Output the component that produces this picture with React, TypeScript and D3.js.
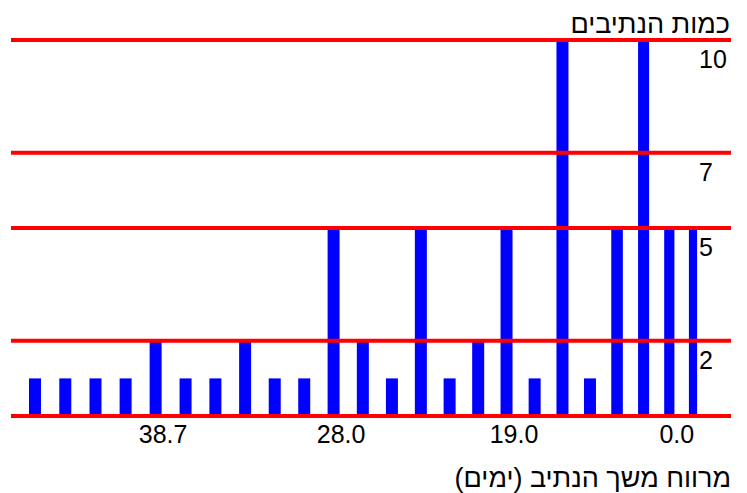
import React, { useRef, useEffect } from 'react';
import * as d3 from 'd3';

// bars listed right to left (the chart reads RTL)
const counts = [5, 5, 10, 5, 1, 10, 1, 5, 2, 1, 5, 1, 2, 5, 1, 1, 2, 1, 1, 2, 1, 1, 1, 1];
const tickBars = [1, 7, 13, 19];
const tickLabels = ['0.0', '19.0', '28.0', '38.7'];
const yTicks = [2, 5, 7, 10];
const yTitle = 'כמות הנתיבים';
const xTitle = 'מרווח משך הנתיב (ימים)';

const W = 747;
const H = 493;
const FONT = "'Liberation Sans', Arial, sans-serif";

function App() {
  const ref = useRef<SVGSVGElement | null>(null);

  useEffect(() => {
    if (!ref.current) return;
    const svg = d3.select(ref.current);
    svg.selectAll('*').remove();

    const x = d3
      .scalePow()
      .exponent(1.06)
      .domain([0, counts.length - 1])
      .range([693, 35]);

    const y = d3.scaleLinear().domain([0, 10]).range([416, 40]);

    const barWidth = (i: number) => {
      const step = Math.abs(x(i) - x(i + 1));
      return Math.min(12, step - 15.5);
    };

    svg
      .append('g')
      .selectAll('rect')
      .data(counts)
      .join('rect')
      .attr('x', (d, i) => x(i) - barWidth(i) / 2)
      .attr('width', (d, i) => barWidth(i))
      .attr('y', (d) => y(d))
      .attr('height', (d) => y(0) - y(d))
      .attr('fill', '#0000ff');

    // gridlines sit on top of the bars
    svg
      .append('g')
      .selectAll('line')
      .data([0, ...yTicks])
      .join('line')
      .attr('x1', 11)
      .attr('x2', 731)
      .attr('y1', (d) => y(d))
      .attr('y2', (d) => y(d))
      .attr('stroke', '#ff0000')
      .attr('stroke-width', 4);

    svg
      .append('g')
      .selectAll('text')
      .data(yTicks)
      .join('text')
      .attr('x', 699)
      .attr('y', (d) => y(d) + 28)
      .attr('font-family', FONT)
      .attr('font-size', 25)
      .attr('fill', '#000')
      .text((d) => d);

    svg
      .append('g')
      .selectAll('text')
      .data(tickBars)
      .join('text')
      .attr('x', (d) => x(d) + 7.5)
      .attr('y', 443)
      .attr('text-anchor', 'middle')
      .attr('font-family', FONT)
      .attr('font-size', 25)
      .attr('fill', '#000')
      .text((d, i) => tickLabels[i]);

    svg
      .append('text')
      .attr('x', 730)
      .attr('y', 33)
      .attr('direction', 'rtl')
      .attr('text-anchor', 'start')
      .attr('font-family', FONT)
      .attr('font-size', 27)
      .attr('fill', '#000')
      .text(yTitle);

    svg
      .append('text')
      .attr('x', 731)
      .attr('y', 487)
      .attr('direction', 'rtl')
      .attr('text-anchor', 'start')
      .attr('font-family', FONT)
      .attr('font-size', 27)
      .attr('fill', '#000')
      .text(xTitle);
  }, []);

  return (
    <div style={{ position: 'absolute', left: 0, top: 0 }}>
      <svg ref={ref} width={W} height={H} style={{ display: 'block', background: '#fff' }} />
    </div>
  );
}

export default App;
